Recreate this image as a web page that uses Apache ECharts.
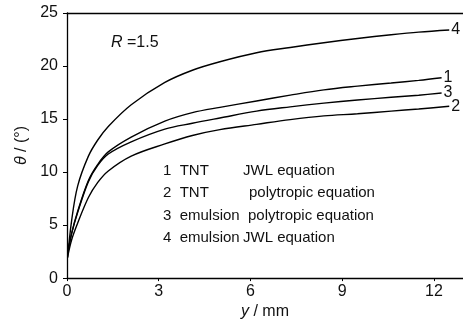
<!DOCTYPE html>
<html><head><meta charset="utf-8">
<script src="https://cdn.jsdelivr.net/npm/echarts@6/dist/echarts.min.js"></script>
<style>html,body{margin:0;padding:0;background:#fff}#c{width:463px;height:325px}</style>
</head><body><div id="c"></div>
<script>
var xs = [0.02, 0.15, 0.35, 0.7, 1.0, 1.35, 2.1, 3.2, 4.1, 5, 6.2, 7.3, 8.4, 9.5, 10.6, 11.5];
var curve1 = [2.3, 4.2, 6.3, 9.2, 10.7, 11.9, 13.3, 14.8, 15.6, 16.1, 16.7, 17.25, 17.75, 18.1, 18.4, 18.65];
var curve2 = [2.0, 3.6, 5.2, 7.6, 9.0, 10.1, 11.5, 12.65, 13.45, 14.0, 14.5, 14.95, 15.3, 15.5, 15.75, 15.95];
var curve3 = [2.3, 4.2, 6.2, 9.1, 10.6, 11.7, 12.85, 14.05, 14.6, 15.1, 15.75, 16.15, 16.5, 16.8, 17.05, 17.25];
var curve4 = [1.9, 5.4, 8.7, 11.5, 13.0, 14.3, 16.35, 18.45, 19.6, 20.4, 21.25, 21.75, 22.2, 22.6, 22.95, 23.2];
var endX = {c1: 12.25, c2: 12.5, c3: 12.25, c4: 12.5};
var endY = {c1: 18.9, c2: 16.2, c3: 17.45, c4: 23.4};
var xTicks = [0, 3, 6, 9, 12];
var yTicks = [0, 5, 10, 15, 20, 25];
var legendLines = [["1  TNT", "JWL equation"], ["2  TNT", "polytropic equation"], ["3  emulsion", "polytropic equation"], ["4  emulsion", "JWL equation"]];

var FONT = "'Liberation Sans',Arial,sans-serif";
function pairs(vals, ex, ey) {
  var d = xs.map(function (x, i) { return [x, vals[i]]; });
  d.push([ex, ey]);
  return d;
}
function ser(name, vals, key) {
  return {
    type: 'line', name: name, data: pairs(vals, endX[key], endY[key]),
    smooth: 0.35, showSymbol: false, symbol: 'none',
    lineStyle: {color: '#000', width: 1.4},
    endLabel: {show: true, formatter: name, color: '#111', fontFamily: FONT, fontSize: 16, distance: 2},
    animation: false
  };
}
var chart = echarts.init(document.getElementById('c'));
var legendCol2X = [243, 249, 248, 243];
var graphics = [];
legendLines.forEach(function (l, i) {
  var y = 171 + i * 22.6;
  graphics.push({type: 'text', left: 163, top: y - 8, style: {text: l[0], font: '15px ' + FONT, fill: '#111'}});
  graphics.push({type: 'text', left: legendCol2X[i], top: y - 8, style: {text: l[1], font: '15px ' + FONT, fill: '#111'}});
});
graphics.push({type: 'text', left: 111, top: 35, style: {
  rich: {i: {fontStyle: 'italic', fontSize: 16, fontFamily: FONT, fill: '#111'}, n: {fontSize: 16, fontFamily: FONT, fill: '#111'}},
  text: '{i|R}{n| =1.5}'}});
chart.setOption({
  backgroundColor: '#fff',
  animation: false,
  grid: {left: 67, right: 0, top: 13, bottom: 40},
  xAxis: [{
    type: 'value', min: 0, max: 12.95, interval: 3, position: 'bottom',
    axisLine: {lineStyle: {color: '#000', width: 1.3}},
    axisTick: {show: true, length: 3, lineStyle: {color: '#000'}},
    splitLine: {show: false},
    axisLabel: {color: '#111', fontFamily: FONT, fontSize: 16, margin: 5, showMaxLabel: false,
      formatter: function (v) { return xTicks.indexOf(v) >= 0 ? String(v) : ''; }},
    name: '{i|y} / mm', nameLocation: 'middle', nameGap: 23,
    nameTextStyle: {fontFamily: FONT, fontSize: 16, color: '#111', rich: {i: {fontStyle: 'italic', fontFamily: FONT, fontSize: 16, color: '#111'}}}
  }, {
    type: 'value', min: 0, max: 12.95, position: 'top',
    axisLine: {show: true, lineStyle: {color: '#000', width: 1.3}},
    axisTick: {show: false}, axisLabel: {show: false}, splitLine: {show: false}
  }],
  yAxis: {
    type: 'value', min: 0, max: 25, interval: 5,
    axisLine: {show: true, lineStyle: {color: '#000', width: 1.3}},
    axisTick: {show: true, length: 4, lineStyle: {color: '#000'}},
    splitLine: {show: false},
    axisLabel: {color: '#111', fontFamily: FONT, fontSize: 16, margin: 9,
      formatter: function (v) { return yTicks.indexOf(v) >= 0 ? String(v) : ''; }},
    name: '{i|θ} / (°)', nameLocation: 'middle', nameGap: 37, nameRotate: 90,
    nameTextStyle: {fontFamily: FONT, fontSize: 16, color: '#111', rich: {i: {fontStyle: 'italic', fontFamily: FONT, fontSize: 16, color: '#111'}}}
  },
  graphic: graphics,
  series: [ser('1', curve1, 'c1'), ser('2', curve2, 'c2'), ser('3', curve3, 'c3'), ser('4', curve4, 'c4')]
});
</script></body></html>
